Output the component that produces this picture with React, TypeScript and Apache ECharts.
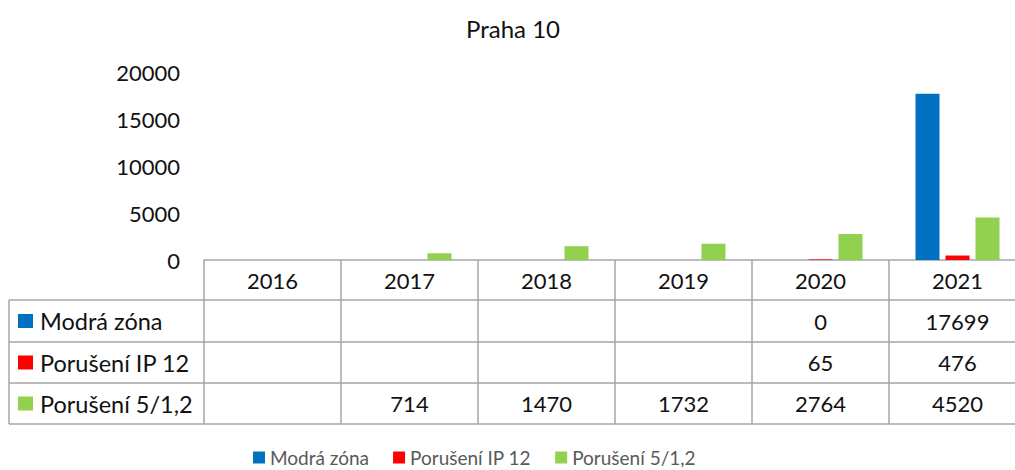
import React, { useEffect, useRef } from "react";
import * as echarts from "echarts";

const title = "Praha 10";
const years = ["2016", "2017", "2018", "2019", "2020", "2021"];
const seriesNames = ["Modrá zóna", "Porušení IP 12", "Porušení 5/1,2"];
const seriesColors = ["#0070C0", "#FF0000", "#92D050"];
const modraZona: (number | null)[] = [null, null, null, null, 0, 17699];
const poruseniIP12: (number | null)[] = [null, null, null, null, 65, 476];
const poruseni512: (number | null)[] = [null, 714, 1470, 1732, 2764, 4520];
const yTicks = { min: 0, max: 20000, interval: 5000 };

const FONT = "Lato, 'Noto Sans', sans-serif";
const LINE = "#a6a6a6";

export default function App() {
  const ref = useRef<HTMLDivElement>(null);
  useEffect(() => {
    if (!ref.current) return;
    const chart = echarts.init(ref.current, null, { renderer: "svg" });
    const allSeries = [modraZona, poruseniIP12, poruseni512];
    const gridLeft = 204;
    const gridTop = 72;
    const gridHeight = 188;
    const gridWidth = 822;
    chart.setOption({
      animation: false,
      textStyle: { fontFamily: FONT },
      title: {
        text: title,
        left: 508,
        textAlign: "center",
        top: 11,
        textStyle: { fontSize: 24, fontWeight: "normal", color: "#111", fontFamily: FONT },
      },
      legend: {
        left: 248,
        top: 443,
        icon: "rect",
        itemWidth: 12,
        itemHeight: 12,
        itemGap: 24,
        textStyle: { fontSize: 19, color: "#595959", fontFamily: FONT },
        data: seriesNames,
      },
      grid: { left: gridLeft, top: gridTop, width: gridWidth, height: gridHeight, containLabel: false },
      xAxis: {
        type: "category",
        data: years,
        axisLine: { show: true, lineStyle: { color: LINE, width: 1.5 } },
        axisTick: { show: false },
        axisLabel: { show: false },
      },
      yAxis: {
        type: "value",
        min: yTicks.min,
        max: yTicks.max,
        interval: yTicks.interval,
        splitLine: { show: false },
        axisLine: { show: false },
        axisTick: { show: false },
        axisLabel: { fontSize: 22, color: "#111", margin: 24, fontFamily: FONT, formatter: (v: number) => String(v) },
      },
      series: allSeries.map((d, i) => ({
        name: seriesNames[i],
        type: "bar",
        data: d,
        barWidth: 24,
        barGap: "25%",
        itemStyle: { color: seriesColors[i] },
      })),
    });

    // Data table built from the arrays and the axis scale
    const band = gridWidth / years.length;
    const centers = years.map((_, i) => chart.convertToPixel({ xAxisIndex: 0 }, i) as number);
    const yAxisBase = gridTop + gridHeight;
    const rowBounds = [yAxisBase, 300, 342, 383, 424];
    const tableLeft = 9;
    const tableRight = gridLeft + gridWidth;
    const g: any[] = [];
    const line = (x1: number, y1: number, x2: number, y2: number) =>
      g.push({ type: "line", shape: { x1, y1, x2, y2 }, style: { stroke: LINE, lineWidth: 1.5 }, silent: true });
    for (let r = 1; r < rowBounds.length; r++) line(tableLeft, rowBounds[r], tableRight, rowBounds[r]);
    line(tableLeft, rowBounds[1], tableLeft, rowBounds[4]);
    for (let k = 0; k <= years.length; k++) {
      const x = centers[0] - band / 2 + k * band;
      line(x, rowBounds[0], x, rowBounds[4]);
    }
    years.forEach((y, i) => {
      g.push({
        type: "text",
        x: centers[i],
        y: (rowBounds[0] + rowBounds[1]) / 2,
        style: { text: y, fontSize: 22, fill: "#111", fontFamily: FONT, align: "center", verticalAlign: "middle" },
      });
    });
    allSeries.forEach((d, r) => {
      const cy = (rowBounds[r + 1] + rowBounds[r + 2]) / 2;
      g.push({ type: "rect", shape: { x: 18, y: cy - 7, width: 15, height: 14 }, style: { fill: seriesColors[r] } });
      g.push({
        type: "text",
        x: 40,
        y: cy,
        style: { text: seriesNames[r], fontSize: 23.5, fill: "#111", fontFamily: FONT, align: "left", verticalAlign: "middle" },
      });
      d.forEach((v, i) => {
        if (v === null) return;
        g.push({
          type: "text",
          x: centers[i],
          y: cy,
          style: { text: String(v), fontSize: 22, fill: "#111", fontFamily: FONT, align: "center", verticalAlign: "middle" },
        });
      });
    });
    chart.setOption({ graphic: g });
    return () => chart.dispose();
  }, []);
  return (
    <div style={{ position: "fixed", left: 0, top: 0, width: 1015, height: 470, overflow: "hidden", background: "#fff" }}>
      <div ref={ref} style={{ width: 1030, height: 470 }} />
    </div>
  );
}
